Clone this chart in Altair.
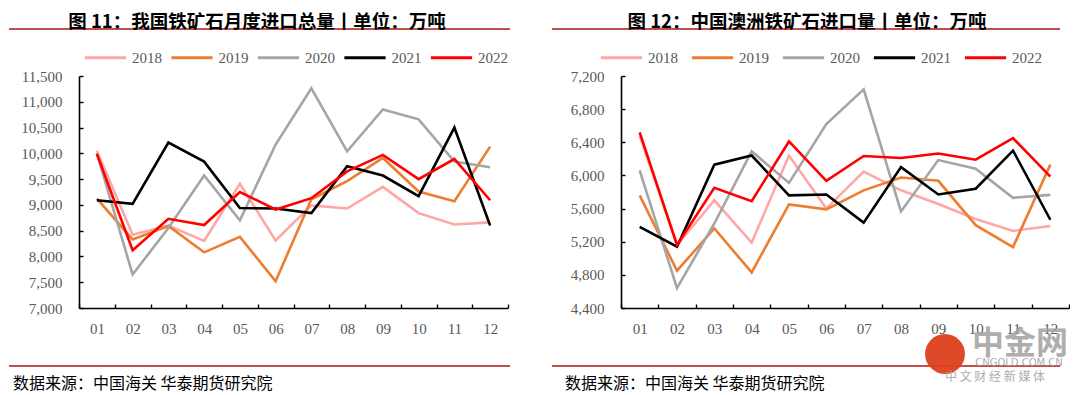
import altair as alt
import pandas as pd

months = ["01", "02", "03", "04", "05", "06", "07", "08", "09", "10", "11", "12"]
years = ["2018", "2019", "2020", "2021", "2022"]
colors = ["#FFA6A6", "#ED7D31", "#A5A5A5", "#000000", "#FF0000"]

# 图11: 我国铁矿石月度进口总量 (万吨)
total_2018 = [10050, 8420, 8600, 8300, 9410, 8310, 8990, 8930, 9350, 8840, 8620, 8660]
total_2019 = [9120, 8330, 8590, 8080, 8380, 7520, 9110, 9460, 9910, 9260, 9070, 10130]
total_2020 = [10000, 7650, 8550, 9570, 8700, 10170, 11260, 10040, 10850, 10660, 9840, 9730]
total_2021 = [9090, 9020, 10210, 9840, 8940, 8930, 8840, 9750, 9570, 9170, 10500, 8600]
total_2022 = [9990, 8120, 8730, 8610, 9250, 8910, 9130, 9650, 9970, 9500, 9890, 9090]

# 图12: 中国澳洲铁矿石进口量 (万吨)
aus_2018 = [6480, 5160, 5700, 5190, 6240, 5600, 6045, 5820, 5655, 5475, 5330, 5390]
aus_2019 = [5760, 4850, 5360, 4830, 5650, 5590, 5820, 5975, 5935, 5400, 5135, 6130]
aus_2020 = [6060, 4640, 5420, 6290, 5910, 6620, 7040, 5565, 6185, 6080, 5730, 5765]
aus_2021 = [5380, 5140, 6130, 6240, 5760, 5770, 5430, 6100, 5770, 5840, 6300, 5465]
aus_2022 = [6520, 5160, 5850, 5690, 6410, 5935, 6235, 6210, 6265, 6190, 6450, 5985]

left_ticks = [7000, 7500, 8000, 8500, 9000, 9500, 10000, 10500, 11000, 11500]
right_ticks = [4400, 4800, 5200, 5600, 6000, 6400, 6800, 7200]

left_title = "图 11：我国铁矿石月度进口总量丨单位：万吨"
right_title = "图 12：中国澳洲铁矿石进口量丨单位：万吨"
source_text = "数据来源：中国海关  华泰期货研究院"
wm_big = "中金网"
wm_url = "CNGOLD.COM.CN"
wm_sub = "中  文  财  经  新  媒  体"

SERIF = "Liberation Serif"
CJK = "Noto Sans CJK SC"
GRAY = "#595959"
RULE = "#C0504D"
H = 232


def long_df(series):
    rows = []
    for yr, vals in zip(years, series):
        for m, v in zip(months, vals):
            rows.append({"month": m, "year": yr, "value": v})
    return pd.DataFrame(rows)


def one(k):
    return pd.DataFrame({"t": [k]})


def panel(df, ydomain, yticks, w, title, title_x, line_x1, line_x2,
          footer_x, legend_x, col_pad, watermark=False):
    x = alt.X("month:O", sort=months, bandPosition=0.5,
              scale=alt.Scale(type="band", paddingInner=0, paddingOuter=0),
              axis=alt.Axis(title=None, labelAngle=0, tickBand="extent",
                            tickSize=alt.ExprRef(expr="-4"), labelPadding=17,
                            labelFont=SERIF, labelFontSize=15, labelColor=GRAY,
                            domainColor="#000000", domainWidth=1.6,
                            tickColor="#000000", tickWidth=1.4, grid=False))
    y = alt.Y("value:Q",
              scale=alt.Scale(domain=ydomain, nice=False, zero=False),
              axis=alt.Axis(title=None, values=yticks, format=",.0f",
                            tickSize=alt.ExprRef(expr="-4"), labelPadding=21,
                            labelFont=SERIF, labelFontSize=15, labelColor=GRAY,
                            domainColor="#000000", domainWidth=1.6,
                            tickColor="#000000", tickWidth=1.4, grid=False))
    color = alt.Color("year:N",
                      scale=alt.Scale(domain=years, range=colors),
                      legend=alt.Legend(orient="none", legendX=legend_x, legendY=-41,
                                        direction="horizontal", title=None,
                                        symbolType="stroke", symbolSize=1700,
                                        symbolStrokeWidth=3, labelFont=SERIF,
                                        labelFontSize=15, labelColor=GRAY,
                                        columnPadding=col_pad, labelOffset=4))
    lines = alt.Chart(df).mark_line(strokeWidth=2.6).encode(x=x, y=y, color=color)

    anchor = alt.Chart(one("a")).mark_rule(opacity=0).encode(
        x=alt.value(0), y=alt.value(-68), y2=alt.value(322))
    ttl = alt.Chart(one(title)).mark_text(
        font=CJK, fontSize=18.5, fontWeight="bold", align="center",
        baseline="middle", color="#000000").encode(
        x=alt.value(title_x), y=alt.value(-54), text="t:N")
    top_rule = alt.Chart(one("r")).mark_rule(color=RULE, strokeWidth=2).encode(
        x=alt.value(line_x1), x2=alt.value(line_x2), y=alt.value(-47))
    bot_rule = alt.Chart(one("r")).mark_rule(color=RULE, strokeWidth=2).encode(
        x=alt.value(line_x1), x2=alt.value(line_x2), y=alt.value(290))
    footer = alt.Chart(one(source_text)).mark_text(
        font=CJK, fontSize=16, align="left", baseline="middle",
        color="#000000").encode(x=alt.value(footer_x), y=alt.value(308), text="t:N")

    layers = [anchor, top_rule, bot_rule, ttl, footer, lines]
    if watermark:
        circ = alt.Chart(one("c")).mark_point(
            filled=True, shape="circle", size=1590, color="#DC3F1C", opacity=0.95).encode(
            x=alt.value(324), y=alt.value(278))
        big = alt.Chart(one(wm_big)).mark_text(
            font=CJK, fontSize=32, fontWeight="bold", color="#A0A0A0", opacity=0.85,
            align="center", baseline="middle").encode(
            x=alt.value(399), y=alt.value(268), text="t:N")
        url = alt.Chart(one(wm_url)).mark_text(
            font="DejaVu Sans", fontSize=10, color="#A0A0A0", opacity=0.85,
            align="center", baseline="middle").encode(
            x=alt.value(398), y=alt.value(287), text="t:N")
        sub = alt.Chart(one(wm_sub)).mark_text(
            font=CJK, fontSize=12, color="#A0A0A0", opacity=0.85,
            align="center", baseline="middle").encode(
            x=alt.value(374), y=alt.value(301), text="t:N")
        layers += [circ, big, url, sub]
    return alt.layer(*layers).properties(width=w, height=H)


left = panel(long_df([total_2018, total_2019, total_2020, total_2021, total_2022]),
             [7000, 11500], left_ticks, 429, left_title, 178, -70, 431, -66, 4, 2.5)
right = panel(long_df([aus_2018, aus_2019, aus_2020, aus_2021, aus_2022]),
              [4400, 7200], right_ticks, 448, right_title, 186, -69, 439, -56, -22, 7,
              watermark=True)

chart = alt.hconcat(left, right, spacing=113, bounds="flush").resolve_scale(
    color="independent", x="independent", y="independent"
).configure(padding=0, background="#FFFFFF").configure_view(stroke=None)

chart.save("out.html", embed_options={"renderer": "svg", "actions": False})
